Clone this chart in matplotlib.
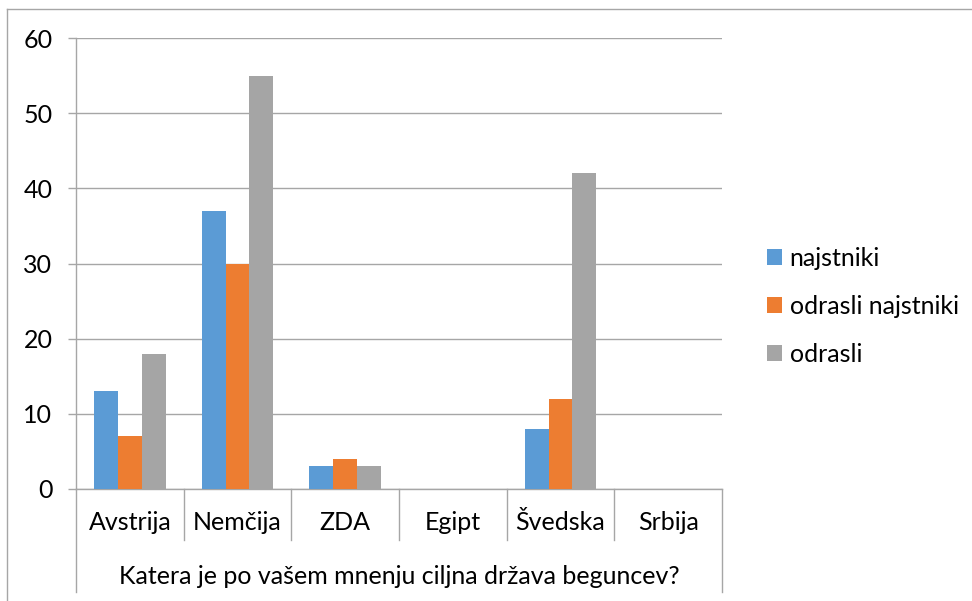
import matplotlib
matplotlib.use("Agg")
import matplotlib.pyplot as plt
from matplotlib.lines import Line2D
import numpy as np

plt.rcParams['font.family'] = ['Lato', 'DejaVu Sans']

drzave = ["Avstrija", "Nemčija", "ZDA", "Egipt", "Švedska", "Srbija"]
najstniki = [13, 37, 3, 0, 8, 0]
odrasli_najstniki = [7, 30, 4, 0, 12, 0]
odrasli = [18, 55, 3, 0, 42, 0]
serije = ["najstniki", "odrasli najstniki", "odrasli"]
barve = ["#5B9BD5", "#ED7D31", "#A5A5A5"]
naslov_osi = "Katera je po vašem mnenju ciljna država beguncev?"

W, H = 972, 601
fig = plt.figure(figsize=(W / 100, H / 100), dpi=100)
# meje risalne ploskve v pikslih
left, right, top, bottom = 76, 722, 38, 489
ax = fig.add_axes([left / W, 1 - bottom / H, (right - left) / W, (bottom - top) / H])

siva = "#A6A6A6"
fs = 18
x = np.arange(len(drzave))
sirina = 0.222
for i, (vrednosti, barva, ime) in enumerate(zip([najstniki, odrasli_najstniki, odrasli], barve, serije)):
    ax.bar(x + (i - 1) * sirina, vrednosti, sirina, color=barva, label=ime, zorder=3)

ax.set_xlim(-0.5, len(drzave) - 0.5)
ax.set_ylim(0, 60)
ax.set_yticks(range(0, 61, 10))
ax.yaxis.grid(True, color=siva, linewidth=1, zorder=0)
ax.tick_params(axis="y", direction="out", length=6, width=1, color=siva, pad=11, labelsize=fs)
ax.set_xticks([])
for s in ["top", "right"]:
    ax.spines[s].set_visible(False)
for s in ["left", "bottom"]:
    ax.spines[s].set_color(siva)
    ax.spines[s].set_linewidth(1)

# dvonivojska kategorijska os
visina = bottom - top
y_del = -(540 - bottom) / visina
y_konec = -(592 - bottom) / visina
trans = ax.get_xaxis_transform()
for k in range(len(drzave) + 1):
    xk = k - 0.5
    y2 = y_konec if k in (0, len(drzave)) else y_del
    ax.add_line(Line2D([xk, xk], [0, y2], transform=trans, color=siva, linewidth=1, clip_on=False))
for k, ime in enumerate(drzave):
    ax.text(k, -(522 - bottom) / visina, ime, transform=trans, ha="center", va="center", fontsize=fs)
ax.text((len(drzave) - 1) / 2, -(577 - bottom) / visina, naslov_osi, transform=trans,
        ha="center", va="center", fontsize=fs)

# legenda
ax.legend(loc="center left", bbox_to_anchor=(757 / W, 1 - 306 / H), bbox_transform=fig.transFigure,
          frameon=False, fontsize=fs, handlelength=0.6, handleheight=0.6, handletextpad=0.3,
          labelspacing=1.0, borderaxespad=0)

# okvir grafikona
fig.add_artist(Line2D([7 / W, 1], [1 - 9 / H, 1 - 9 / H], transform=fig.transFigure, color=siva, linewidth=1))
fig.add_artist(Line2D([7 / W, 7 / W], [0, 1 - 9 / H], transform=fig.transFigure, color=siva, linewidth=1))

fig.savefig("out.png", dpi=100)
